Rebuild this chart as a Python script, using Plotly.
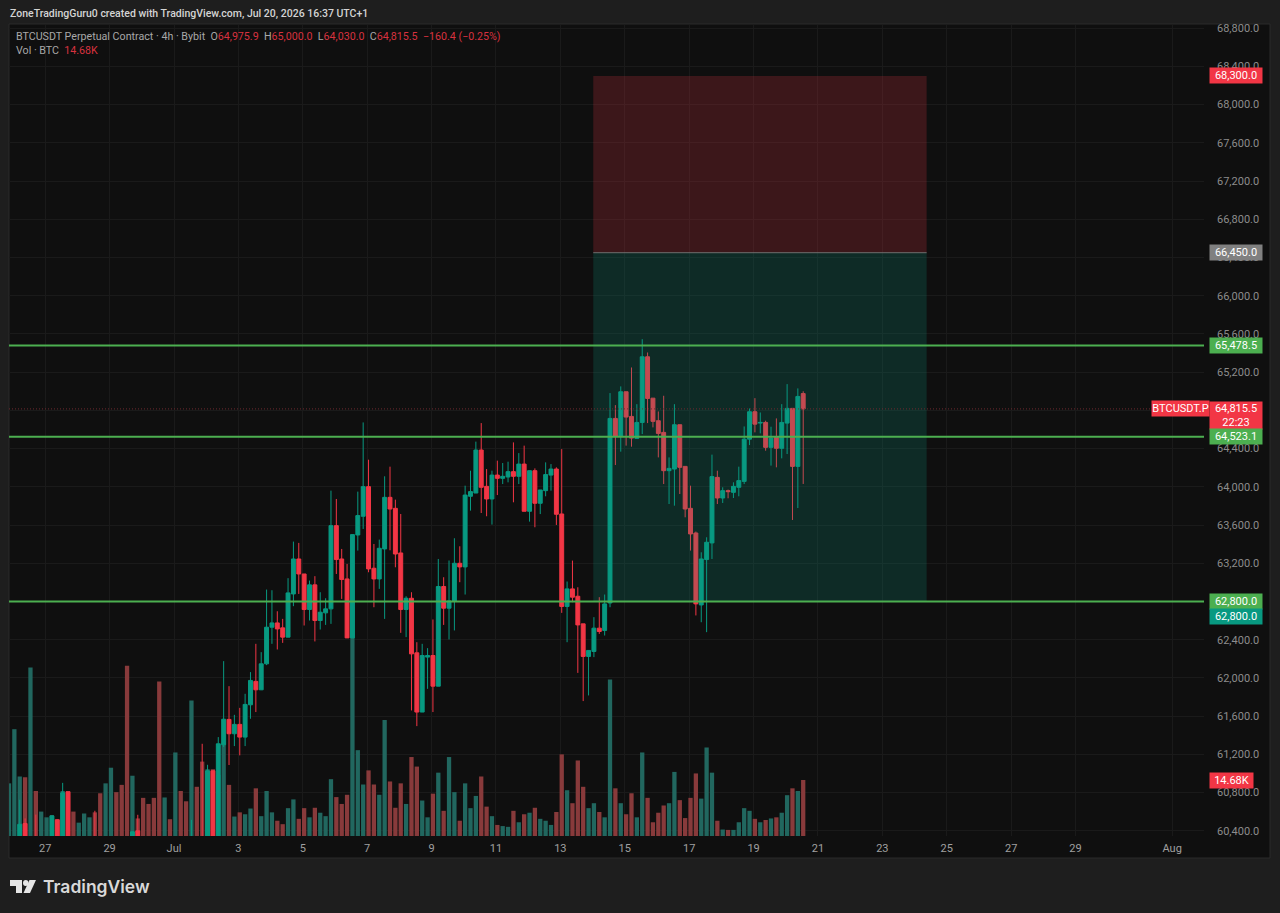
import pandas as pd
import plotly.graph_objects as go

# ---------- data (4h bars) ----------
bar_start = "2026-06-25 21:00"
open_ = [
 59900,59950,60050,60477,60050,60250,60000,60120,60250,60515,
 60150,60808,60200,60000,60100,60150,60250,60000,59700,59900,
 60200,60100,60050,59800,60400,60100,60000,59900,59800,59400,
 59650,59600,60000,59850,59700,60300,60100,60000,61028,60250,
 61301,61566,61416,61514,61381,61719,61964,61876,62148,62531,
 62576,62524,62427,62879,63245,63088,62716,62974,62601,62681,
 62723,63594,63245,63036,62419,63496,63692,64002,63148,63036,
 63350,63890,63775,63308,62716,62834,62263,61643,62218,62235,
 61914,62957,62730,62800,63200,63162,63901,63935,64385,64005,
 63873,64123,64089,64103,64159,64110,64238,63744,64169,63828,
 63960,64123,64186,63716,62748,62932,62855,62566,62225,62277,
 62521,62497,62785,64716,64528,64995,64737,64507,64674,65361,
 64928,64692,64570,64169,64186,64650,64214,63775,63517,62764,
 63239,63413,64099,63883,63960,63942,63995,64057,64499,64786,
 64667,64674,64413,64518,64403,64667,64821,64214,64975.9]
high = [
 60200,60250,60725,60530,60280,60570,60200,60280,60560,60520,
 60902,60805,60300,60150,60200,60280,60610,60100,59950,60250,
 60300,60200,60150,60390,60568,60200,60100,60000,59950,59700,
 59750,60100,60100,59950,60515,60320,61311,61091,61030,61381,
 62176,61914,61614,61687,61834,62061,62357,62270,62925,62918,
 62698,62618,63044,63427,63413,63088,63019,63065,62897,62834,
 63960,63873,63350,63193,63500,63950,64674,64284,63402,63448,
 64110,64211,63866,63716,62855,62897,62374,62357,62312,62612,
 63245,63054,63229,63462,63378,64012,64169,64473,64667,64186,
 64169,64274,64249,64263,64465,64353,64431,64169,64193,63967,
 64256,64238,64204,64395,63009,63228,62949,62566,62288,62636,
 62845,62873,64981,64855,65051,64995,65249,64865,65545,65406,
 64928,64789,64953,64308,64865,64650,64214,64012,63532,63315,
 63472,64337,64169,63995,63971,64047,64211,64632,64820,64928,
 64778,64692,64629,64716,64865,65075,64821,65030,65000]
low = [
 59850,59850,59950,60000,59800,59950,59900,60000,60150,60100,
 60100,60150,59950,59900,60000,60050,59950,59650,59600,59850,
 60000,60000,59700,59750,60050,59950,59850,59750,59300,59350,
 59550,59550,59800,59650,59650,60050,59950,59950,60200,60200,
 61277,61089,61287,61190,61287,61573,61643,61873,62134,62357,
 62298,62367,62427,62751,62879,62549,62601,62382,62507,62555,
 62566,63088,62827,62419,62419,63333,63559,63106,62740,62932,
 62618,63336,63158,62472,62427,61660,61496,61643,61886,61643,
 61914,62555,62403,62497,63002,62873,63751,63935,63726,63692,
 63605,63914,64029,64047,63838,64029,63744,63636,63577,63715,
 63901,63960,63601,62681,62374,62793,62053,61758,61817,62218,
 62461,62444,62740,64228,64368,64431,64420,64507,64552,64667,
 64622,64308,64029,63820,63803,63925,63681,63333,62654,62583,
 62479,63245,63820,63831,63880,63883,63901,64029,64437,64570,
 64559,64378,64222,64204,64298,64343,63653,63778,64030]
close = [
 60100,60150,60468,60050,60250,60000,60120,60250,60555,60150,
 60798,60200,60000,60100,60150,60250,60000,59700,59900,60200,
 60100,60050,59800,60390,60100,60000,59900,59800,59400,59650,
 59600,60000,59850,59700,60300,60100,60000,61028,60250,61311,
 61568,61416,61514,61381,61723,61974,61876,62148,62531,62576,
 62513,62427,62890,63245,63088,62716,62974,62601,62688,62723,
 63594,63239,63030,62419,63500,63699,64002,63141,63036,63357,
 63890,63768,63297,62716,62834,62252,61643,62235,62235,61914,
 62957,62730,62806,63200,63162,63914,63950,64385,63995,63873,
 64123,64089,64110,64159,64110,64238,63744,64169,63828,63967,
 64128,64186,63713,62748,62932,62845,62555,62225,62288,62521,
 62486,62775,64716,64528,64995,64730,64510,64674,65361,64925,
 64685,64559,64169,64193,64650,64204,63768,63507,62775,63245,
 63420,64107,63883,63960,63950,64005,64065,64499,64786,64656,
 64674,64413,64510,64403,64674,64821,64214,64946,64815.5]
volume_k = [
 13.8,28.0,15.6,15.4,44.2,11.8,6.4,4.9,5.5,4.4,
 11.8,11.8,6.4,3.5,5.9,4.9,6.2,11.2,13.8,17.9,
 11.5,13.4,44.6,15.8,4.6,10.0,8.4,10.0,40.5,10.1,
 4.4,21.9,11.8,9.1,35.5,12.9,19.5,17.5,17.5,16.0,
 24.5,13.4,5.1,6.2,5.7,7.2,12.5,5.2,11.8,6.2,
 4.0,3.1,7.3,9.6,4.5,7.3,4.9,7.4,6.1,5.2,
 14.9,10.2,8.4,10.8,60.0,22.5,13.5,17.2,13.5,10.8,
 30.4,14.3,7.4,13.8,8.4,20.7,18.2,9.3,4.9,11.1,
 16.6,6.6,20.7,11.5,4.0,13.8,7.3,10.5,15.6,7.7,
 5.2,2.9,2.6,2.4,6.6,3.6,5.7,6.1,7.4,4.5,
 4.0,2.9,6.3,21.4,12.0,8.6,19.8,12.9,7.3,8.6,
 6.3,4.9,41.0,12.5,8.6,5.7,11.2,4.9,21.9,10.0,
 3.6,6.1,8.0,8.6,16.8,9.4,4.7,10.0,16.4,9.8,
 23.2,16.6,4.0,1.7,1.6,1.6,3.6,7.3,6.6,4.5,
 3.6,4.2,4.6,4.9,6.1,10.7,12.5,11.8,14.68]

price_ticks = [60400 + 400 * k for k in range(22)]
date_ticks = ["2026-06-27","2026-06-29","2026-07-01","2026-07-03","2026-07-05","2026-07-07",
              "2026-07-09","2026-07-11","2026-07-13","2026-07-15","2026-07-17","2026-07-19",
              "2026-07-21","2026-07-23","2026-07-25","2026-07-27","2026-07-29","2026-08-01"]
date_labels = ["27","29","Jul","3","5","7","9","11","13","15","17","19","21","23","25","27","29","Aug"]

position_start = "2026-07-14 00:30"
position_end = "2026-07-24 09:00"
stop_price = 68300
entry_price = 66450
target_price = 62800
level_1 = 65478.5
level_2 = 64523.1
level_3 = 62800
last_price = 64815.5

assert len(open_) == len(high) == len(low) == len(close) == len(volume_k) == 149
times = pd.date_range(bar_start, periods=len(open_), freq="4h")

# ---------- styling ----------
UP, DOWN = "#089981", "#f23645"
VOL_UP, VOL_DOWN = "#21675f", "#883a3b"
TICK = "#8c8c8c"
FONT = "Roboto"
L, R, T, B = 9, 1204, 25, 836     # plot box in page pixels
px = lambda v: (v - L) / (R - L)
py = lambda v: (B - v) / (B - T)

fig = go.Figure()
fig.add_trace(go.Bar(
    x=times, y=volume_k, yaxis="y",
    marker=dict(color=[VOL_UP if c >= o else VOL_DOWN for o, c in zip(open_, close)], line_width=0),
    hoverinfo="skip"))
fig.add_trace(go.Candlestick(
    x=times, open=open_, high=high, low=low, close=close, yaxis="y2",
    increasing=dict(line=dict(color=UP, width=1), fillcolor=UP),
    decreasing=dict(line=dict(color=DOWN, width=1), fillcolor=DOWN),
    whiskerwidth=0, hoverinfo="skip"))

shapes = [
    dict(type="rect", xref="paper", yref="paper", x0=px(9), x1=px(1270), y0=py(24), y1=py(858),
         fillcolor="#0f0f0f", line=dict(color="#2b2b2b", width=1), layer="below"),
    dict(type="rect", xref="x", yref="y2", x0=position_start, x1=position_end, y0=entry_price, y1=stop_price,
         fillcolor="rgba(242,54,69,0.2)", line_width=0, layer="above"),
    dict(type="rect", xref="x", yref="y2", x0=position_start, x1=position_end, y0=target_price, y1=entry_price,
         fillcolor="rgba(8,153,129,0.2)", line_width=0, layer="above"),
    dict(type="line", xref="x", yref="y2", x0=position_start, x1=position_end, y0=entry_price, y1=entry_price,
         line=dict(color="#6f6f6f", width=1), layer="above"),
    dict(type="line", xref="paper", yref="y2", x0=0, x1=1, y0=last_price, y1=last_price,
         line=dict(color="#6e2a30", width=1, dash="1px,2px"), layer="above"),
]
for lvl in (level_1, level_2, level_3):
    shapes.append(dict(type="line", xref="paper", yref="y2", x0=0, x1=1, y0=lvl, y1=lvl,
                       line=dict(color="#4caf50", width=2), layer="above"))

def path(points):
    return "M" + " L".join(f"{px(a):.5f},{py(b):.5f}" for a, b in points) + " Z"
shapes += [
    dict(type="path", xref="paper", yref="paper", path=path([(10, 880), (22, 880), (22, 893), (16, 893), (16, 886), (10, 886)]),
         fillcolor="#e6e6e6", line_width=0),
    dict(type="path", xref="paper", yref="paper", path=path([(29.5, 880), (36, 880), (30, 893), (23.5, 893)]),
         fillcolor="#e6e6e6", line_width=0),
    dict(type="circle", xref="paper", yref="paper", x0=px(23), x1=px(28.5), y0=py(880), y1=py(886),
         fillcolor="#e6e6e6", line_width=0),
]

def tag(text, yval, color, yref="y2", x=1209, w=52, h=15, yshift=0, **kw):
    return dict(text=text, xref="paper", yref=yref, x=px(x), y=yval, xanchor="left", yanchor="middle",
                width=w, height=h, bgcolor=color, showarrow=False, borderpad=0, yshift=yshift, align="center",
                font=dict(family=FONT, size=11, color="#ffffff"), **kw)

def red(t):
    return f'<span style="color:#d8323f">{t}</span>'

annotations = [
    tag("68,300.0", stop_price, DOWN),
    tag("66,450.0", entry_price, "#808080"),
    tag("65,478.5", level_1, "#4caf50"),
    tag("64,815.5<br>22:23", last_price, DOWN, h=27, yshift=-7),
    tag("BTCUSDT.P", last_price, DOWN, x=1151, w=57),
    tag("64,523.1", level_2, "#4caf50"),
    tag("62,800.0", level_3, "#4caf50"),
    tag("62,800.0", target_price, UP, yshift=-15),
    tag("14.68K", volume_k[-1], DOWN, yref="y", w=43),
    dict(text="ZoneTradingGuru0 created with TradingView.com, Jul 20, 2026 16:37 UTC+1",
         xref="paper", yref="paper", x=px(7.5), y=py(13), xanchor="left", yanchor="middle", showarrow=False,
         font=dict(family=FONT, size=10.5, color="#d4d4d4", weight=500)),
    dict(text="BTCUSDT Perpetual Contract · 4h · Bybit  O" + red("64,975.9") + "  H" + red("65,000.0")
              + "  L" + red("64,030.0") + "  C" + red("64,815.5") + "  " + red("−160.4 (−0.25%)"),
         xref="paper", yref="paper", x=px(13.5), y=py(36), xanchor="left", yanchor="middle", showarrow=False,
         font=dict(family=FONT, size=10.68, color="#a8a8a8")),
    dict(text="Vol · BTC  " + red("14.68K"),
         xref="paper", yref="paper", x=px(13.5), y=py(50), xanchor="left", yanchor="middle", showarrow=False,
         font=dict(family=FONT, size=10.68, color="#a8a8a8")),
    dict(text="TradingView", xref="paper", yref="paper", x=px(41), y=py(887), xanchor="left", yanchor="middle",
         showarrow=False, font=dict(family="Inter", size=17.5, color="#d9d9d9", weight=600)),
]

fig.update_layout(
    width=1280, height=913, autosize=False,
    margin=dict(l=L, r=1280 - R, t=T, b=913 - B),
    paper_bgcolor="#1e1e1e", plot_bgcolor="#0f0f0f",
    showlegend=False, bargap=0.2, boxgap=0.27, boxgroupgap=0,
    shapes=shapes, annotations=annotations,
    font=dict(family=FONT, color=TICK),
    xaxis=dict(type="date", range=[bar_start, "2026-08-01 23:45"], rangeslider=dict(visible=False),
               tickmode="array", tickvals=date_ticks, ticktext=date_labels,
               showgrid=True, gridcolor="#1a1a1a", gridwidth=1, zeroline=False, showline=False,
               ticks="", ticklabelstandoff=4, tickfont=dict(family=FONT, size=11, color="#a0a0a0")),
    yaxis=dict(range=[0, (B - T) / 3.815], visible=False, showgrid=False, fixedrange=True),
    yaxis2=dict(overlaying="y", side="right", anchor="x",
                range=[60346, 68833], tickmode="array", tickvals=price_ticks,
                tickformat=",.1f", showgrid=True, gridcolor="#1a1a1a", gridwidth=1,
                zeroline=False, showline=False, ticks="", ticklabelstandoff=12,
                tickfont=dict(family=FONT, size=11, color=TICK)),
)

fig.write_html("out.html", config={"displayModeBar": False},
               post_script="document.body.style.margin='0';document.body.style.background='#1e1e1e';")
